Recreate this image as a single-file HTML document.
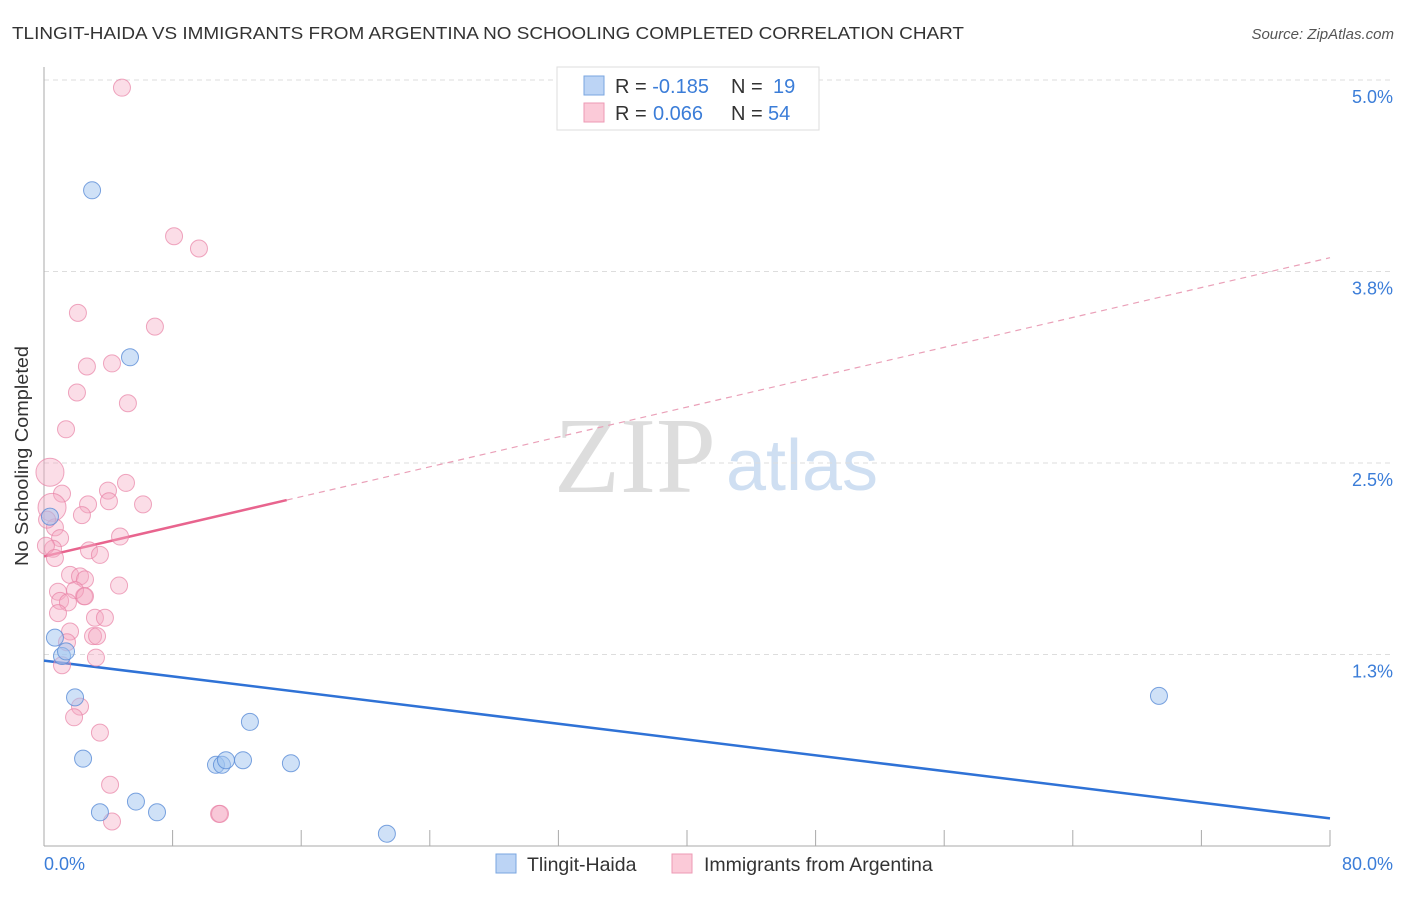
<!DOCTYPE html>
<html><head><meta charset="utf-8"><style>
body{margin:0;background:#fff;font-family:"Liberation Sans",sans-serif;}
</style></head><body>
<svg width="1406" height="892" xmlns="http://www.w3.org/2000/svg" style="font-family:'Liberation Sans',sans-serif">
<text x="12" y="39" font-size="17.5" fill="#333" textLength="952" lengthAdjust="spacingAndGlyphs">TLINGIT-HAIDA VS IMMIGRANTS FROM ARGENTINA NO SCHOOLING COMPLETED CORRELATION CHART</text>
<text x="1394" y="39" font-size="15" fill="#555" font-style="italic" text-anchor="end">Source: ZipAtlas.com</text>
<text x="635" y="492" font-size="108" fill="#ddd" font-family="Liberation Serif,serif" text-anchor="middle">ZIP</text>
<text x="802" y="490" font-size="72" fill="#cfdff2" text-anchor="middle">atlas</text>
<g id="grid"></g>
<line x1="44" y1="67" x2="44" y2="846" stroke="#aaa"/>
<line x1="44" y1="846" x2="1330" y2="846" stroke="#aaa"/>
<g id="xticks"></g>
<text x="28" y="456" font-size="18" fill="#333" text-anchor="middle" transform="rotate(-90 28 456)" textLength="220" lengthAdjust="spacingAndGlyphs">No Schooling Completed</text>
<text x="44" y="870" font-size="18" fill="#3b7dd8">0.0%</text>
<text x="1393" y="870" font-size="18" fill="#3b7dd8" text-anchor="end">80.0%</text>
<g id="trends"></g>
<g id="points"></g>
<g>
<rect x="557" y="67" width="262" height="63" fill="#fff" stroke="#ddd"/>
<rect x="584" y="76" width="20" height="19" fill="#bcd4f5" stroke="#7aa6e0"/>
<rect x="584" y="103" width="20" height="19" fill="#fbcad8" stroke="#ee9ab4"/>
<text x="615" y="93" font-size="20" fill="#333">R = <tspan fill="#3b7dd8">-0.185</tspan><tspan x="731">N = </tspan><tspan fill="#3b7dd8" x="773">19</tspan></text>
<text x="615" y="120" font-size="20" fill="#333">R = <tspan fill="#3b7dd8" x="653">0.066</tspan><tspan x="731">N = </tspan><tspan fill="#3b7dd8" x="768">54</tspan></text>
</g>
<g>
<rect x="496" y="854" width="20" height="19" fill="#bcd4f5" stroke="#7aa6e0"/>
<text x="527" y="871" font-size="19.5" fill="#333">Tlingit-Haida</text>
<rect x="672" y="854" width="20" height="19" fill="#fbcad8" stroke="#ee9ab4"/>
<text x="704" y="871" font-size="19.5" fill="#333">Immigrants from Argentina</text>
</g>
</svg>
<script>
const yTicks=[5.0,3.75,2.5,1.25];
const yTickLabels=["5.0%","3.8%","2.5%","1.3%"];
const xTicks=[0,8,16,24,32,40,48,56,64,72,80];
const blueX=[2.99,5.35,0.37,0.68,1.12,1.37,1.93,2.43,3.48,5.72,7.03,10.7,11.07,11.32,12.38,12.81,15.36,21.33,69.36];
const blueY=[4.28,3.19,2.15,1.36,1.24,1.27,0.97,0.57,0.22,0.29,0.22,0.53,0.53,0.56,0.56,0.81,0.54,0.08,0.98];
const pinkX=[4.85,8.09,9.64,2.11,6.90,2.67,4.23,2.05,5.22,1.37,0.37,5.10,1.12,3.98,2.74,6.16,4.04,0.50,0.68,2.36,4.73,1.00,2.80,0.56,3.48,1.62,2.24,2.55,4.67,2.49,0.87,1.93,1.00,1.49,0.87,3.17,3.79,1.62,3.05,3.30,3.23,1.12,2.24,1.87,3.48,4.11,4.23,10.89,10.95,0.19,0.12,1.43,0.68,2.55];
const pinkY=[4.95,3.98,3.90,3.48,3.39,3.13,3.15,2.96,2.89,2.72,2.44,2.37,2.30,2.32,2.23,2.23,2.25,2.21,2.08,2.16,2.02,2.01,1.93,1.94,1.90,1.77,1.76,1.74,1.70,1.63,1.66,1.67,1.60,1.59,1.52,1.49,1.49,1.40,1.37,1.37,1.23,1.18,0.91,0.84,0.74,0.40,0.16,0.21,0.21,2.13,1.96,1.33,1.88,1.63];
const blueTrend=[1.21,0.18];
const pinkTrend=[1.89,3.84];
const pinkSolidEnd=15.1;
const NS="http://www.w3.org/2000/svg";
const X=v=>44+v/80*1286;
const Y=v=>80+(5-v)/1.25*191.5;
function mk(tag,attrs,parent){const e=document.createElementNS(NS,tag);for(const k in attrs)e.setAttribute(k,attrs[k]);document.getElementById(parent).appendChild(e);return e;}
yTicks.forEach((t,i)=>{
 const l=mk('line',{x1:44,x2:1394,y1:Y(t),y2:Y(t),stroke:'#ddd','stroke-dasharray':'5,4'},'grid');
 
 
 const tx=mk('text',{x:1393,y:Y(t)+23,'font-size':18,fill:'#3b7dd8','text-anchor':'end'},'grid');
 tx.textContent=yTickLabels[i];
 
 
});
xTicks.forEach(t=>{
 const l=mk('line',{x1:X(t),x2:X(t),y1:830,y2:846,stroke:'#aaa'},'xticks');
 
 
});
const tb=mk('line',{x1:X(0),y1:Y(blueTrend[0]),x2:X(80),y2:Y(blueTrend[1]),stroke:'#2f72d6','stroke-width':2.5},'trends');


const pf=x=>pinkTrend[0]+(pinkTrend[1]-pinkTrend[0])*x/80;
const tp=mk('line',{x1:X(0),y1:Y(pf(0)),x2:X(pinkSolidEnd),y2:Y(pf(pinkSolidEnd)),stroke:'#e8648e','stroke-width':2.5},'trends');


const td=mk('line',{x1:X(pinkSolidEnd),y1:Y(pf(pinkSolidEnd)),x2:X(80),y2:Y(pf(80)),stroke:'#eaa0b8','stroke-width':1.2,'stroke-dasharray':'6,5'},'trends');


pinkX.forEach((x,i)=>{
 const big=(i===10||i===17);
 const c=mk('circle',{cx:X(x),cy:Y(pinkY[i]),r:big?14:8.5,fill:'rgba(246,170,195,0.4)',stroke:'rgba(232,130,165,0.7)','stroke-width':1},'points');
 
 
});
blueX.forEach((x,i)=>{
 const c=mk('circle',{cx:X(x),cy:Y(blueY[i]),r:8.5,fill:'rgba(160,195,240,0.5)',stroke:'rgba(90,140,215,0.8)','stroke-width':1},'points');
 
 
});
</script>
</body></html>
